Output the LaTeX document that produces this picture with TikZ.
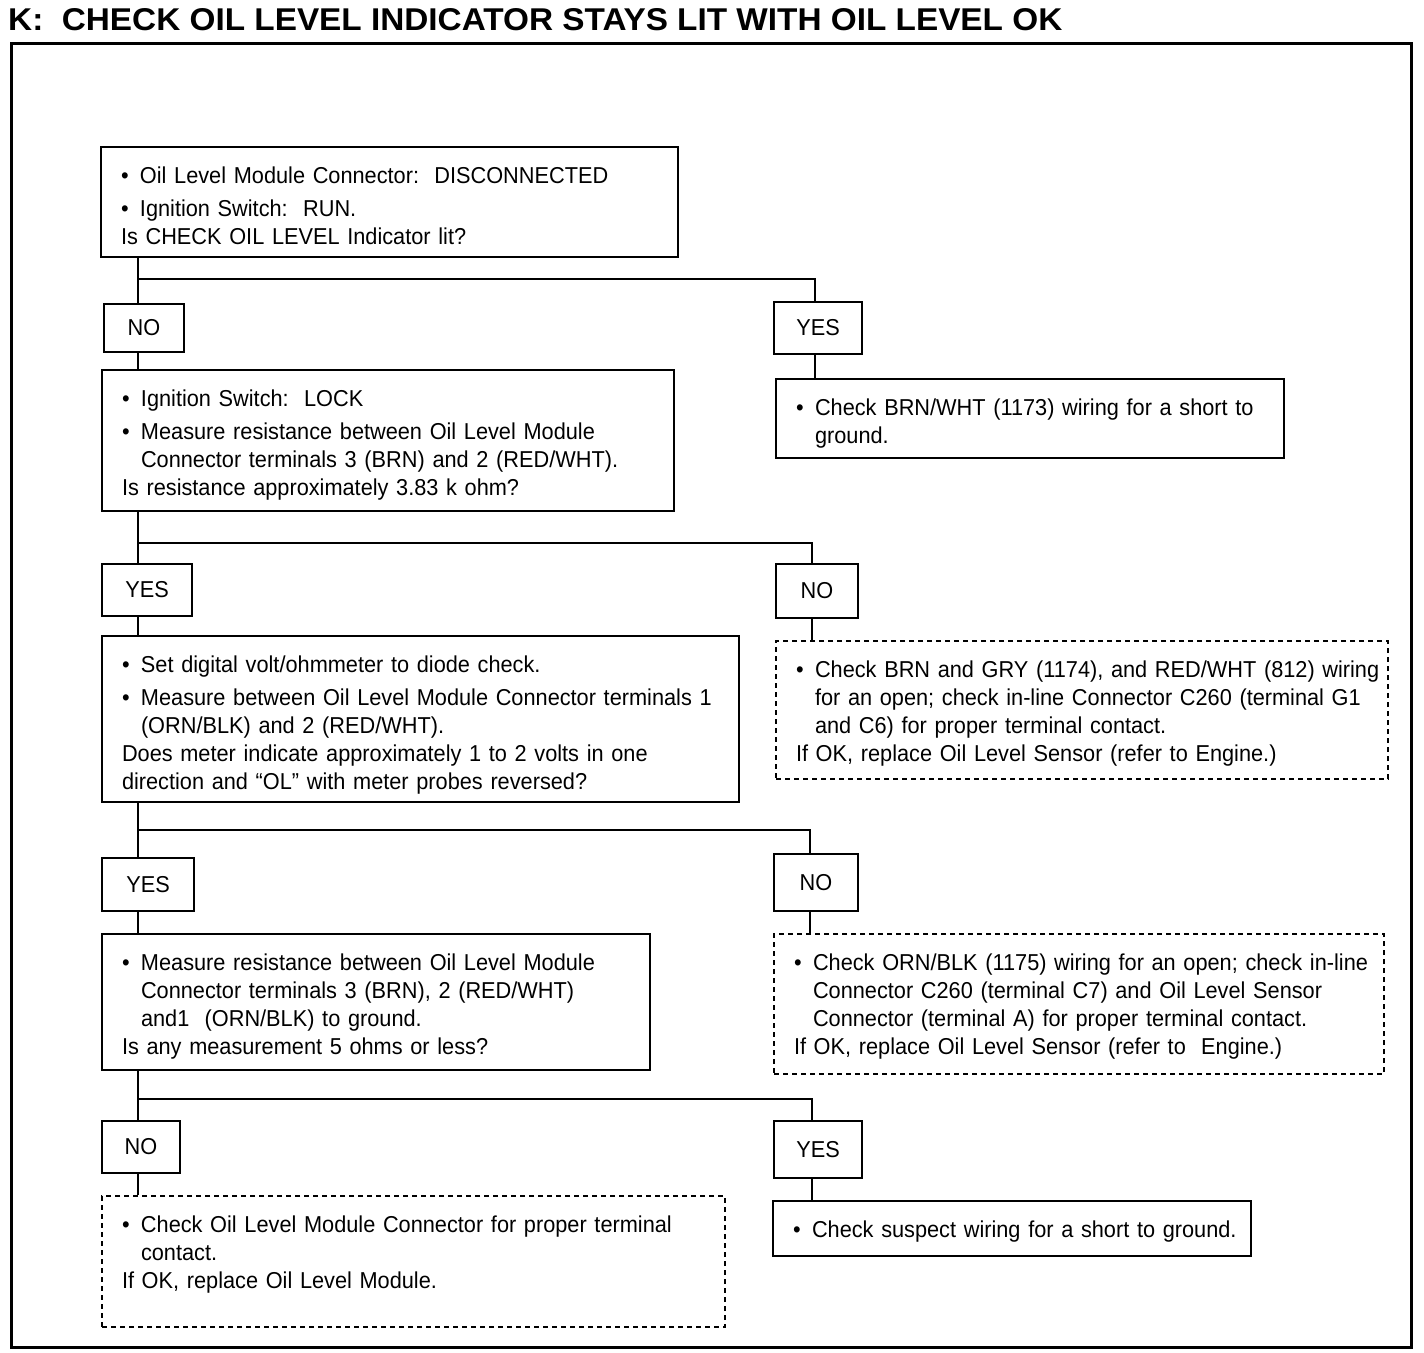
\documentclass[tikz,border=0pt]{standalone}
\usepackage{fontspec}
\usepackage{graphicx}
\setmainfont{Liberation Sans}[FakeStretch=0.945]
\newcommand\bul{\makebox[19pt][l]{\textbullet}}
\newcommand\ind{\hspace*{19pt}}
\tikzset{
  box/.style={draw, line width=2pt, anchor=north west, inner xsep=20pt, inner ysep=0pt,
    text height=36pt, align=left, font=\fontsize{23}{28}\selectfont},
  dbox/.style={box, dash pattern=on 5pt off 4pt},
  lab/.style={draw, line width=2pt, anchor=north west, inner sep=0pt,
    font=\fontsize{23}{28}\selectfont},
  conn/.style={line width=2.5pt},
}
\begin{document}
\begin{tikzpicture}[x=1pt,y=-1pt]
\useasboundingbox (0,0) rectangle (1424,1352);
\node[anchor=north west, inner sep=0pt] (title) at (8,8)
  {\resizebox{1054pt}{22pt}{\bfseries K:\ \ CHECK OIL LEVEL INDICATOR STAYS LIT WITH OIL LEVEL OK}};
\node[draw, line width=3pt, anchor=north west, inner sep=0pt, minimum width=1400pt, minimum height=1304pt] (frame) at (10,42) {};

% main boxes
\node[box, text width=537pt, text depth=74pt] (A) at (100,146)
  {\mbox{\bul Oil Level Module Connector:\ \ DISCONNECTED}\\[5pt]
   \mbox{\bul Ignition Switch:\ \ RUN.}\\
   \mbox{Is CHECK OIL LEVEL Indicator lit?}};
\node[box, text width=532pt, text depth=105pt] (B) at (101,369)
  {\mbox{\bul Ignition Switch:\ \ LOCK}\\[5pt]
   \mbox{\bul Measure resistance between Oil Level Module}\\
   \mbox{\ind Connector terminals 3 (BRN) and 2 (RED/WHT).}\\
   \mbox{Is resistance approximately 3.83 k ohm?}};
\node[box, text width=468pt, text depth=43pt] (C) at (775,378)
  {\mbox{\bul Check BRN/WHT (1173) wiring for a short to}\\
   \mbox{\ind ground.}};
\node[box, text width=597pt, text depth=130pt] (D) at (101,635)
  {\mbox{\bul Set digital volt/ohmmeter to diode check.}\\[5pt]
   \mbox{\bul Measure between Oil Level Module Connector terminals 1}\\
   \mbox{\ind (ORN/BLK) and 2 (RED/WHT).}\\
   \mbox{Does meter indicate approximately 1 to 2 volts in one}\\
   \mbox{direction and “OL” with meter probes reversed?}};
\node[dbox, text width=572pt, text depth=102pt] (E) at (775,640)
  {\mbox{\bul Check BRN and GRY (1174), and RED/WHT (812) wiring}\\
   \mbox{\ind for an open; check in-line Connector C260 (terminal G1}\\
   \mbox{\ind and C6) for proper terminal contact.}\\
   \mbox{If OK, replace Oil Level Sensor (refer to Engine.)}};
\node[box, text width=508pt, text depth=100pt] (F) at (101,933)
  {\mbox{\bul Measure resistance between Oil Level Module}\\
   \mbox{\ind Connector terminals 3 (BRN), 2 (RED/WHT)}\\
   \mbox{\ind and1\ \ (ORN/BLK) to ground.}\\
   \mbox{Is any measurement 5 ohms or less?}};
\node[dbox, text width=570pt, text depth=104pt] (G) at (773,933)
  {\mbox{\bul Check ORN/BLK (1175) wiring for an open; check in-line}\\
   \mbox{\ind Connector C260 (terminal C7) and Oil Level Sensor}\\
   \mbox{\ind Connector (terminal A) for proper terminal contact.}\\
   \mbox{If OK, replace Oil Level Sensor (refer to\ \ Engine.)}};
\node[dbox, text width=583pt, text depth=95pt] (H) at (101,1195)
  {\mbox{\bul Check Oil Level Module Connector for proper terminal}\\
   \mbox{\ind contact.}\\
   \mbox{If OK, replace Oil Level Module.}};
\node[box, text width=438pt, text depth=19pt] (I) at (772,1200)
  {\mbox{\bul Check suspect wiring for a short to ground.}};

% answer labels
\node[lab, minimum width=80pt, minimum height=48pt] (NO1) at (103,303) {NO};
\node[lab, minimum width=88pt, minimum height=52pt] (YES1) at (773,301) {YES};
\node[lab, minimum width=90pt, minimum height=52pt] (YES2) at (101,563) {YES};
\node[lab, minimum width=82pt, minimum height=54pt] (NO2) at (775,563) {NO};
\node[lab, minimum width=92pt, minimum height=53pt] (YES3) at (101,857) {YES};
\node[lab, minimum width=84pt, minimum height=57pt] (NO3) at (773,853) {NO};
\node[lab, minimum width=78pt, minimum height=52pt] (NO4) at (101,1120) {NO};
\node[lab, minimum width=88pt, minimum height=57pt] (YES4) at (773,1120) {YES};

% junctions
\coordinate (j1) at (138,279); \coordinate (r1) at (815,279);
\coordinate (j2) at (138,543); \coordinate (r2) at (812,543);
\coordinate (j3) at (138,830); \coordinate (r3) at (810,830);
\coordinate (j4) at (138,1099); \coordinate (r4) at (812,1099);

% connectors
\draw[conn] (A.south -| j1) -- (NO1.north -| j1);
\draw[conn] (j1) -- (r1) -- (YES1.north -| r1);
\draw[conn] (NO1.south -| j1) -- (B.north -| j1);
\draw[conn] (YES1.south -| r1) -- (C.north -| r1);

\draw[conn] (B.south -| j2) -- (YES2.north -| j2);
\draw[conn] (j2) -- (r2) -- (NO2.north -| r2);
\draw[conn] (YES2.south -| j2) -- (D.north -| j2);
\draw[conn] (NO2.south -| r2) -- (E.north -| r2);

\draw[conn] (D.south -| j3) -- (YES3.north -| j3);
\draw[conn] (j3) -- (r3) -- (NO3.north -| r3);
\draw[conn] (YES3.south -| j3) -- (F.north -| j3);
\draw[conn] (NO3.south -| r3) -- (G.north -| r3);

\draw[conn] (F.south -| j4) -- (NO4.north -| j4);
\draw[conn] (j4) -- (r4) -- (YES4.north -| r4);
\draw[conn] (NO4.south -| j4) -- (H.north -| j4);
\draw[conn] (YES4.south -| r4) -- (I.north -| r4);
\end{tikzpicture}
\end{document}
